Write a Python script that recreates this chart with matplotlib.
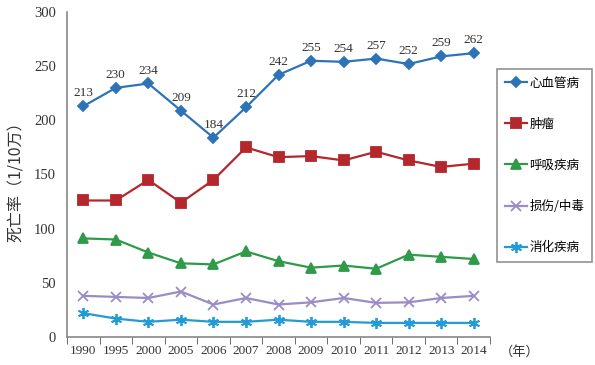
import matplotlib
matplotlib.use('Agg')
import matplotlib.pyplot as plt

years = ['1990', '1995', '2000', '2005', '2006', '2007', '2008',
         '2009', '2010', '2011', '2012', '2013', '2014']
cardio = [213, 230, 234, 209, 184, 212, 242, 255, 254, 257, 252, 259, 262]
tumor = [126, 126, 145, 124, 145, 175, 166, 167, 163, 171, 163, 157, 160]
resp = [91, 90, 78, 68, 67, 79, 70, 64, 66, 63, 76, 74, 72]
injury = [38, 37, 36, 42, 30, 36, 30, 32, 36, 31.5, 32, 36, 38]
digest = [22, 17, 14, 16, 14, 14, 16, 14, 14, 13, 13, 13, 13]

names = ['心血管病', '肿瘤', '呼吸疾病', '损伤/中毒', '消化疾病']
colors = ['#2e73b8', '#b3272d', '#2f9a4a', '#9a8cc6', '#229bd6']
markers = ['D', 's', '^', 'x', (6, 2, 0)]
msizes = [5, 7, 7, 7, 8]

plt.rcParams['font.family'] = ['Liberation Serif', 'Noto Sans CJK SC']
cjk = ['Noto Sans CJK SC', 'DejaVu Sans']

fig = plt.figure(figsize=(5.95, 3.65), dpi=100)
ax = fig.add_axes([67/595, 28/365, 423/595, 325/365])

x = list(range(len(years)))
series = [cardio, tumor, resp, injury, digest]
for vals, name, c, m, ms in zip(series, names, colors, markers, msizes):
    ax.plot(x, vals, color=c, marker=m, markersize=ms, linewidth=1.6,
            markeredgewidth=1.3, label=name)

for xi, v in zip(x, cardio):
    ax.annotate(str(v), (xi, v), xytext=(0, 5), textcoords='offset points',
                ha='center', va='bottom', fontsize=9.5, color='#333333')

ax.set_xlim(-0.5, len(years) - 0.5)
ax.set_ylim(0, 300)
ax.set_yticks(range(0, 301, 50))
ax.tick_params(axis='y', length=0, labelsize=10.5, pad=8, colors='#333333')
ax.set_xticks(x)
ax.set_xticklabels(years, fontsize=9.5, color='#333333')
ax.set_xticks([i + 0.5 for i in range(-1, len(years))], minor=True)
ax.tick_params(axis='x', which='major', length=0, pad=6)
ax.tick_params(axis='x', which='minor', length=5, direction='out', color='#555555')
for s in ['top', 'right']:
    ax.spines[s].set_visible(False)
ax.spines['left'].set_color('#888888')
ax.spines['bottom'].set_color('#888888')
ax.spines['left'].set_linewidth(1.2)
ax.spines['bottom'].set_linewidth(1.2)

ax.set_ylabel('死亡率（1/10万）', family=cjk, fontsize=11.5, color='#333333', labelpad=6)
ax.yaxis.set_label_coords(-0.1, 0.49)
fig.text(500/595, 1 - 352/365, '（年）', family=cjk, fontsize=9.5,
         color='#333333', va='center')

leg = ax.legend(loc='upper left', bbox_to_anchor=(497/595, 1 - 69/365),
                bbox_transform=fig.transFigure, prop={'family': cjk, 'size': 9},
                frameon=True, fancybox=False, edgecolor='#777777',
                labelspacing=2.25, handlelength=1.8, handletextpad=0.2,
                borderpad=0.6, borderaxespad=0)
leg.get_frame().set_linewidth(1.2)

fig.savefig('out.png', dpi=100)
